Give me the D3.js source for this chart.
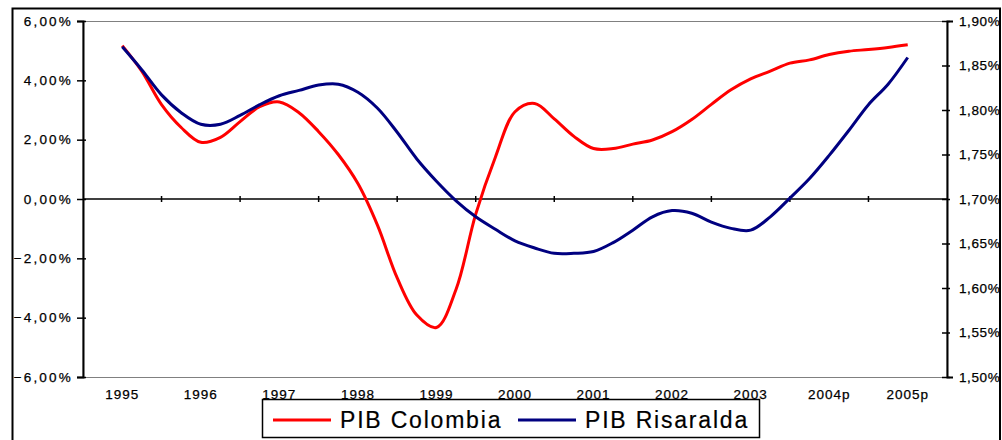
<!DOCTYPE html>
<html>
<head>
<meta charset="utf-8">
<script src="https://cdn.jsdelivr.net/npm/d3@7"></script>
<style>
  body { margin: 0; background: #fff; }
  text { font-family: "Liberation Sans", Arial, sans-serif; fill: #000; }
</style>
</head>
<body>
<script>
// categories on the x axis
var years = ['1995', '1996', '1997', '1998', '1999', '2000', '2001', '2002', '2003', '2004p', '2005p']

// quarterly values, 1995 .. 2005p (41 points)
var colombia = [5.17, 4.30, 3.18, 2.41, 1.91, 2.08, 2.61, 3.11, 3.27, 2.91,
    2.27, 1.50, 0.52, -0.89, -2.66, -3.91, -4.33, -3.04, -0.51, 1.41,
    2.94, 3.22, 2.70, 2.11, 1.70, 1.70, 1.85, 1.99, 2.27, 2.68,
    3.19, 3.68, 4.05, 4.31, 4.58, 4.69, 4.87, 4.98, 5.04, 5.11, 5.20]

var risaralda = [1.871, 1.845, 1.817, 1.797, 1.784, 1.784, 1.794, 1.806, 1.816, 1.822,
    1.828, 1.829, 1.820, 1.802, 1.775, 1.745, 1.720, 1.698, 1.680, 1.666,
    1.653, 1.645, 1.639, 1.639, 1.641, 1.651, 1.665, 1.680, 1.687, 1.684,
    1.674, 1.667, 1.665, 1.680, 1.701, 1.723, 1.749, 1.777, 1.806, 1.829, 1.859]

var leftTicks = [-6, -4, -2, 0, 2, 4, 6]
var rightTicks = [1.50, 1.55, 1.60, 1.65, 1.70, 1.75, 1.80, 1.85, 1.90]
var seriesNames = ['PIB Colombia', 'PIB Risaralda']
var seriesColors = ['#ff0000', '#000080']

var W = 1002, H = 440
var pLeft = 83, pRight = 947, pTop = 21, pBottom = 377

var svg = d3.select('body').append('svg')
    .attr('width', W)
    .attr('height', H)

// outer frame
svg.append('rect')
    .attr('x', 12.5).attr('y', 8.5)
    .attr('width', 987.5).attr('height', 450)
    .attr('fill', 'none').attr('stroke', '#000').attr('stroke-width', 2)

var x = d3.scaleBand().domain(years).range([pLeft, pRight])
var t = d3.scaleLinear().domain([0, years.length - 1])
    .range([x(years[0]) + x.bandwidth() / 2, x(years[years.length - 1]) + x.bandwidth() / 2])
var yL = d3.scaleLinear().domain([-6, 6]).range([pBottom, pTop])
var yR = d3.scaleLinear().domain([1.5, 1.9]).range([pBottom, pTop])

// plot area border
svg.append('rect')
    .attr('x', pLeft).attr('y', pTop + 0.5)
    .attr('width', pRight - pLeft).attr('height', pBottom - pTop)
    .attr('fill', 'none').attr('stroke', '#808080').attr('stroke-width', 1)

function fmt(v) { return d3.format('.2f')(v).replace('.', ',') + '%' }

// left axis
var gL = svg.append('g').attr('transform', 'translate(' + pLeft + ',0)')
    .call(d3.axisLeft(yL).tickValues(leftTicks).tickSize(6).tickFormat(fmt))
gL.select('.domain').attr('stroke', '#000').attr('stroke-width', 2)
gL.selectAll('.tick line').attr('x1', 3).attr('x2', -6).attr('stroke', '#000').attr('stroke-width', 1.5)
gL.selectAll('.tick text').attr('x', -10).attr('font-size', 13.5).style('letter-spacing', '2.2px')
    .attr('font-family', '"Liberation Sans", Arial, sans-serif')
    .attr('stroke', '#000').attr('stroke-width', 0.25)

// right axis
var gR = svg.append('g').attr('transform', 'translate(' + pRight + ',0)')
    .call(d3.axisRight(yR).tickValues(rightTicks).tickSize(6).tickFormat(fmt))
gR.select('.domain').attr('stroke', '#000').attr('stroke-width', 2)
gR.selectAll('.tick line').attr('x1', -5).attr('x2', 3).attr('stroke', '#000').attr('stroke-width', 1.5)
gR.selectAll('.tick text').attr('x', 12).attr('font-size', 13.5).style('letter-spacing', '0.6px')
    .attr('font-family', '"Liberation Sans", Arial, sans-serif')
    .attr('stroke', '#000').attr('stroke-width', 0.25)

// category axis at 0%
var y0 = yL(0)
svg.append('line')
    .attr('x1', pLeft).attr('x2', pRight)
    .attr('y1', y0).attr('y2', y0)
    .attr('stroke', '#000').attr('stroke-width', 1.5)
svg.selectAll('.xtick').data(years.slice(1)).enter().append('line')
    .attr('x1', function (d) { return x(d) }).attr('x2', function (d) { return x(d) })
    .attr('y1', y0 - 3).attr('y2', y0 + 3)
    .attr('stroke', '#000').attr('stroke-width', 1.5)
svg.selectAll('.xlab').data(years).enter().append('text')
    .attr('x', function (d) { return x(d) + x.bandwidth() / 2 })
    .attr('y', 399)
    .attr('text-anchor', 'middle')
    .attr('font-size', 13.5)
    .style('letter-spacing', '1px')
    .attr('stroke', '#000').attr('stroke-width', 0.25)
    .text(function (d) { return d })

// series
var lineL = d3.line()
    .x(function (d, i) { return t(i / 4) })
    .y(function (d) { return yL(d) })
    .curve(d3.curveCatmullRom.alpha(0.5))
var lineR = d3.line()
    .x(function (d, i) { return t(i / 4) })
    .y(function (d) { return yR(d) })
    .curve(d3.curveCatmullRom.alpha(0.5))

svg.append('path').datum(colombia)
    .attr('d', lineL).attr('fill', 'none')
    .attr('stroke', seriesColors[0]).attr('stroke-width', 3)
svg.append('path').datum(risaralda)
    .attr('d', lineR).attr('fill', 'none')
    .attr('stroke', seriesColors[1]).attr('stroke-width', 3)

// legend
var lg = svg.append('g')
lg.append('rect')
    .attr('x', 262.5).attr('y', 399.5)
    .attr('width', 497).attr('height', 38)
    .attr('fill', '#fff').attr('stroke', '#000').attr('stroke-width', 1.5)
var lx = [273, 518]
seriesNames.forEach(function (name, i) {
    lg.append('line')
        .attr('x1', lx[i]).attr('x2', lx[i] + 58)
        .attr('y1', 420).attr('y2', 420)
        .attr('stroke', seriesColors[i]).attr('stroke-width', 3)
    lg.append('text')
        .attr('x', lx[i] + 67).attr('y', 428)
        .attr('font-size', 23)
        .style('letter-spacing', '1.8px')
        .attr('stroke', '#000').attr('stroke-width', 0.2)
        .text(name)
})
</script>
</body>
</html>
